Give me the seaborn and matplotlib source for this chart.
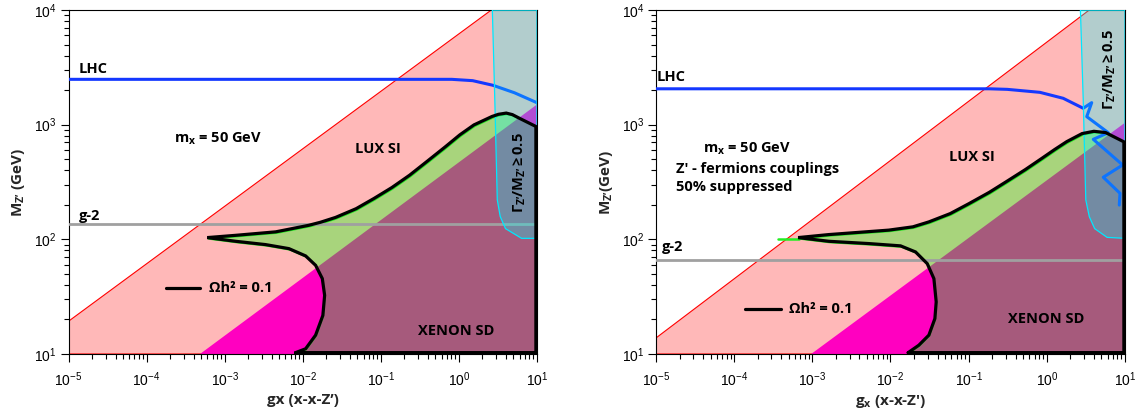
import matplotlib
matplotlib.use("Agg")
import matplotlib.pyplot as plt
import seaborn as sns
from matplotlib.patches import Polygon
from matplotlib import transforms

# ---- axis range and ticks
g_lim = [1e-5, 10]
m_lim = [10, 1e4]
g_ticks = [1e-5, 1e-4, 1e-3, 1e-2, 1e-1, 1, 10]
m_ticks = [10, 100, 1000, 10000]

# ---- left panel
l_lux_g = [1e-5, 2.6]
l_lux_m = [19.3, 1e4]
l_xen_g = [4.83e-4, 10]
l_xen_m = [10, 1500]
l_relic_g = [0.00838, 0.01125, 0.0151, 0.0187, 0.0197, 0.0184, 0.0151, 0.01125, 0.00687, 0.00345,
             0.00143, 0.000617, 0.00143, 0.00465, 0.0124, 0.0174, 0.0272, 0.0499, 0.0845, 0.143,
             0.242, 0.410, 0.695, 1.06, 1.61, 2.74, 3.31, 4.17, 5.0, 6.35, 10]
l_relic_m = [10, 10.8, 14.2, 21.1, 31.6, 44.2, 57.7, 69.7, 80.7, 87.5,
             93.5, 100.7, 105.4, 113, 129, 137, 151, 180, 221, 275,
             353, 469, 625, 792, 968, 1146, 1197, 1227, 1190, 1094, 938]
l_lhc_g = [1e-5, 0.81, 1.5, 2.74, 5.15, 10]
l_lhc_m = [2485, 2485, 2420, 2203, 1897, 1553]
l_g2 = 135
l_width_g = [2.68, 2.88, 3.10, 3.38, 3.95, 6.35, 10]
l_width_m = [1e4, 1660, 221, 158, 124, 102, 102]

# ---- right panel
r_lux_g = [1e-5, 3.49]
r_lux_m = [13.8, 1e4]
r_xen_g = [9.66e-4, 10]
r_xen_m = [10, 1040]
r_relic_g = [0.0174, 0.0238, 0.0320, 0.0382, 0.0397, 0.0371, 0.0305, 0.0216, 0.0139, 0.00547,
             0.00168, 0.00068, 0.00168, 0.00984, 0.0200, 0.0320, 0.060, 0.104, 0.190, 0.312,
             0.550, 0.891, 1.30, 1.86, 2.92, 4.13, 5.83, 10]
r_relic_m = [10, 11.6, 14.2, 19.8, 27.7, 44.2, 59.7, 75.5, 85.3, 89.3,
             93.5, 100.7, 107, 117, 125, 138, 163, 199, 250, 309,
             395, 494, 590, 692, 813, 851, 830, 689]
r_tail_g = [0.000367, 0.00068]
r_tail_m = [100.7, 100.7]
r_lhc_g = [1e-5, 0.184, 0.312, 0.816, 1.62, 2.92, 3.75, 3.24, 6.11, 3.93, 9.33, 5.27, 8.63, 8.45]
r_lhc_m = [2055, 2055, 2032, 1914, 1698, 1390, 1556, 1175, 851, 745, 445, 348, 252, 199]
r_g2 = 66.7
r_width_g = [2.69, 2.92, 3.15, 3.49, 4.09, 5.90, 10]
r_width_m = [1e4, 1660, 221, 158, 124, 104, 102]

PINK = "#ffb8b8"
MAGENTA = "#ff00c0"
MAUVE = "#a65a7c"
GREEN = "#a8d47c"
BLUE = "#1438ff"
GRAY = "#a0a0a0"

sns.set_theme(style="ticks")
plt.rcParams["font.family"] = ["Liberation Sans", "DejaVu Sans"]
plt.rcParams["mathtext.fontset"] = "custom"
plt.rcParams["mathtext.rm"] = "Liberation Sans"
plt.rcParams["mathtext.it"] = "Liberation Sans:italic"
plt.rcParams["mathtext.bf"] = "Open Sans:bold"

BOLD = dict(family="Open Sans", fontweight="bold", fontsize=10.5, color="black", zorder=10)
LAB = dict(family="Open Sans", fontweight="bold", fontsize=11)
GAMMA = "$\\mathbf{\\Gamma_{Z\u2019}/M_{Z\u2019} \\geq 0.5}$"
MZ = "M$_{\\mathbf{Z\u2019}}$"


def draw_panel(ax, lux_g, lux_m, xen_g, xen_m, relic_g, relic_m, lhc_g, lhc_m, g2,
               width_g, width_m):
    ax.set_xscale("log")
    ax.set_yscale("log")
    ax.set_xticks(g_ticks)
    ax.set_yticks(m_ticks)
    ax.set_xlim(g_lim)
    ax.set_ylim(m_lim)

    # LUX SI excluded region
    pink = Polygon([(g_lim[0], m_lim[0]), (lux_g[0], lux_m[0]), (lux_g[1], lux_m[1]),
                    (g_lim[1], m_lim[1]), (g_lim[1], m_lim[0])],
                   closed=True, facecolor=PINK, edgecolor="red", lw=0.8, zorder=1)
    ax.add_patch(pink)
    # XENON SD excluded region
    xen_pts = [(xen_g[0], xen_m[0]), (xen_g[1], xen_m[1]), (g_lim[1], m_lim[0])]
    ax.add_patch(Polygon(xen_pts, closed=True, facecolor=MAGENTA, edgecolor="none", zorder=2))
    # relic region
    relic_pts = list(zip(relic_g, relic_m)) + [(g_lim[1], m_lim[0])]
    relic = Polygon(relic_pts, closed=True, facecolor=GREEN, edgecolor="#22ee22", lw=1.0, zorder=3)
    ax.add_patch(relic)
    mauve = Polygon(xen_pts, closed=True, facecolor=MAUVE, edgecolor="none", zorder=4)
    ax.add_patch(mauve)
    mauve.set_clip_path(relic)

    # g-2 and LHC
    sns.lineplot(x=[g_lim[0], g_lim[1]], y=[g2, g2], color=GRAY, lw=2.0, ax=ax, zorder=5)
    sns.lineplot(x=lhc_g, y=lhc_m, sort=False, estimator=None, color=BLUE, lw=2.2, ax=ax, zorder=5)

    # width region
    w_pts = list(zip(width_g, width_m)) + [(g_lim[1], m_lim[1])]
    ax.add_patch(Polygon(w_pts, closed=True, facecolor=(0, 1, 1, 0.3), edgecolor="#00e8ff",
                         lw=0.9, zorder=6))

    # relic outline, nudged so the green edge shows on the inside
    off = transforms.offset_copy(ax.transData, fig=ax.figure, x=-0.8, y=1.0, units="points")
    out_g = list(relic_g) + [g_lim[1], relic_g[0]]
    out_m = list(relic_m) + [m_lim[0], relic_m[0]]
    ax.plot(out_g, out_m, color="black", lw=2.3, transform=off, zorder=7,
            solid_joinstyle="miter")

    for s in ax.spines.values():
        s.set_color("black")
        s.set_linewidth(0.8)
    ax.tick_params(axis="both", which="major", length=6, width=0.8, labelsize=10,
                   colors="black", direction="out")
    ax.tick_params(axis="both", which="minor", length=3.5, width=0.8, colors="black",
                   direction="out")
    ax.tick_params(axis="x", pad=6)
    ax.tick_params(axis="y", pad=2.5)
    ax.tick_params(top=False, right=False, which="both")


fig = plt.figure(figsize=(11.38, 4.18), dpi=100)
ax1 = fig.add_axes([68.5 / 1138, 64 / 418, 468.5 / 1138, 344 / 418])
ax2 = fig.add_axes([656 / 1138, 64 / 418, 469 / 1138, 344 / 418])

draw_panel(ax1, l_lux_g, l_lux_m, l_xen_g, l_xen_m, l_relic_g, l_relic_m,
           l_lhc_g, l_lhc_m, l_g2, l_width_g, l_width_m)
draw_panel(ax2, r_lux_g, r_lux_m, r_xen_g, r_xen_m, r_relic_g, r_relic_m,
           r_lhc_g, r_lhc_m, r_g2, r_width_g, r_width_m)
sns.lineplot(x=r_tail_g, y=r_tail_m, color="#22ee22", lw=1.8, ax=ax2, zorder=6)

# left texts
ax1.text(1.34e-5, 3041, "LHC", va="center", ha="left", **BOLD)
ax1.text(1.34e-5, 161, "g-2", va="center", ha="left", **BOLD)
ax1.text(8.2e-4, 750, r"m$_{\mathbf{x}}$ = 50 GeV", va="center", ha="center", **BOLD)
ax1.text(0.093, 617, "LUX SI", va="center", ha="center", **BOLD)
ax1.text(0.93, 15.8, "XENON SD", va="center", ha="center", **BOLD)
sns.lineplot(x=[1.78e-4, 4.83e-4], y=[37.8, 37.8], color="black", lw=2.3, ax=ax1, zorder=10)
ax1.text(6.3e-4, 37.8, "Ωh² = 0.1", va="center", ha="left", **BOLD)
ax1.text(6.0, 380, GAMMA, va="center", ha="center", rotation=90, **BOLD)
ax1.set_xlabel("gx (x-x-Z\u2019)", labelpad=3, **LAB)
ax1.set_ylabel(MZ + " (GeV)", labelpad=5, **LAB)

# right texts
ax2.text(1.03e-5, 2606, "LHC", va="center", ha="left", **BOLD)
ax2.text(1.2e-5, 85, "g-2", va="center", ha="left", **BOLD)
ax2.text(1.48e-4, 617, r"m$_{\mathbf{x}}$ = 50 GeV", va="center", ha="center", **BOLD)
ax2.text(1.82e-5, 409, "Z' - fermions couplings", va="center", ha="left", **BOLD)
ax2.text(1.82e-5, 288, "50% suppressed", va="center", ha="left", **BOLD)
ax2.text(0.109, 519, "LUX SI", va="center", ha="center", **BOLD)
ax2.text(0.97, 20, "XENON SD", va="center", ha="center", **BOLD)
sns.lineplot(x=[1.38e-4, 3.98e-4], y=[24.8, 24.8], color="black", lw=2.3, ax=ax2, zorder=10)
ax2.text(5.0e-4, 24.8, "Ωh² = 0.1", va="center", ha="left", **BOLD)
ax2.text(6.3, 3041, GAMMA, va="center", ha="center", rotation=90, **BOLD)
ax2.set_xlabel("g$_{\\mathbf{x}}$ (x-x-Z')", labelpad=3, **LAB)
ax2.set_ylabel(MZ + "(GeV)", labelpad=5, **LAB)

fig.savefig("out.png", dpi=100)
